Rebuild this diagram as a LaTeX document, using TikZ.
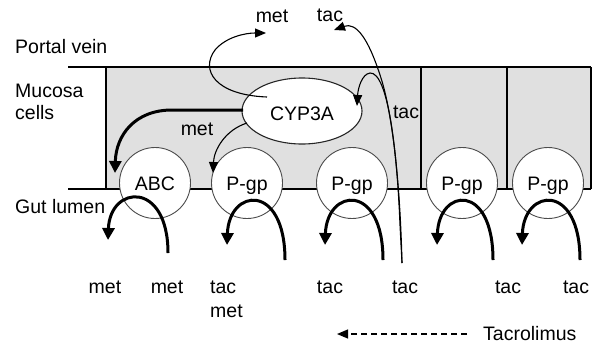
\documentclass[tikz,border=0pt]{standalone}
\usepackage{fontspec}
\setmainfont{Liberation Sans}
\usetikzlibrary{arrows.meta,shapes.geometric}
\begin{document}
\begin{tikzpicture}[x=1pt,y=-1pt,
  lbl/.style={inner sep=0pt,anchor=base,font=\fontsize{19.5}{22}\selectfont},
  lblw/.style={lbl,anchor=base west},
  wall/.style={line width=1.2pt,black},
  pump/.style={circle,draw=black!70,line width=0.9pt,fill=white,minimum size=71pt,inner sep=0pt},
  thick arc/.style={line width=3pt,-{Triangle[length=12pt,width=12pt]}},
  thin arc/.style={line width=1.1pt,-{Triangle[length=11pt,width=9pt]}}]
\useasboundingbox (0,0) rectangle (593,343);
% tissue
\fill[black!12] (106,67) rectangle (591,189);
\draw[wall] (68,67) -- (591,67);
\draw[wall] (68,189) -- (591,189);
\foreach \x in {106,421,507,591} \draw[wall] (\x,67) -- (\x,189);
% side labels
\node[lblw] (pv) at (15,53) {Portal vein};
\node[lblw] (mc1) at (15,97) {Mucosa};
\node[lblw] (mc2) at (15,119) {cells};
\node[lblw] (gl) at (15,213) {Gut lumen};
% transporters
\node[pump] (abc) at (155,183) {};
\node[pump] (pg1) at (247,183) {};
\node[pump] (pg2) at (352,183) {};
\node[pump] (pg3) at (462,183) {};
\node[pump] (pg4) at (548,183) {};
\node[lbl] at (155,190) {ABC};
\foreach \n/\x in {pg1/247,pg2/352,pg3/462,pg4/548} \node[lbl] at (\x,190) {P-gp};
% enzyme
\node[ellipse,draw=black!85,line width=1.1pt,fill=white,minimum width=120pt,minimum height=66pt,inner sep=0pt] (cyp) at (302,111) {};
\node[lbl] at (302,120) {CYP3A};
% texts
\node[lbl] (mtop) at (272,22) {met};
\node[lbl] (ttop) at (330,21) {tac};
\node[lbl] (mmid) at (197,135) {met};
\node[lbl] (tmid) at (406,118) {tac};
\node[lbl] (b1) at (105,293) {met};
\node[lbl] (b2) at (167,293) {met};
\node[lblw] (b3) at (210,293) {tac};
\node[lblw] (b4) at (210,317) {met};
\node[lbl] (b5) at (330,293) {tac};
\node[lbl] (b6) at (405,293) {tac};
\node[lbl] (b7) at (508,293) {tac};
\node[lbl] (b8) at (576,293) {tac};
\node[lblw] (leg) at (483,340) {Tacrolimus};
% coordinates
\coordinate (tacS) at (402,263);
\coordinate (tacT) at (334,30);
\coordinate (cypIn) at (357,106);
\coordinate (metS) at (267,97);
\coordinate (metT) at (266,33);
\coordinate (cypL) at (243,110);
\coordinate (abcT) at (115,173);
\coordinate (cypL2) at (247,123);
\coordinate (pg1T) at (213,173);
% thin arrows
\draw[thin arc] (tacS) .. controls (400,180) and (392,110) .. (380,75) .. controls (368,38) and (356,22) .. (tacT);
\draw[thin arc] (tacS) -- (400,225) .. controls (397,150) and (388,72) .. (370,73) .. controls (362,74) and (358,88) .. (cypIn);
\draw[thin arc] (metS) .. controls (215,95) and (200,70) .. (215,50) .. controls (226,37) and (245,33) .. (metT);
\draw[thin arc] (cypL2) .. controls (225,130) and (214,150) .. (pg1T);
% thick arrows
\draw[thick arc] (cypL) -- (172,110) .. controls (135,110) and (116,135) .. (abcT);
\draw[thick arc] (168,253) .. controls (168,180) and (110,185) .. (108,240);
\draw[thick arc] (285,260) .. controls (285,182) and (229,188) .. (227,245);
\draw[thick arc] (383,260) .. controls (383,182) and (327,188) .. (325,245);
\draw[thick arc] (493,260) .. controls (493,182) and (439,188) .. (437,245);
\draw[thick arc] (580,260) .. controls (580,182) and (524,188) .. (522,245);
% legend
\coordinate (legS) at (467,334);
\coordinate (legT) at (337,334);
\draw[line width=1.2pt,dash pattern=on 6pt off 4pt,-{Triangle[length=11pt,width=9pt]}] (legS) -- (legT);
\end{tikzpicture}
\end{document}
